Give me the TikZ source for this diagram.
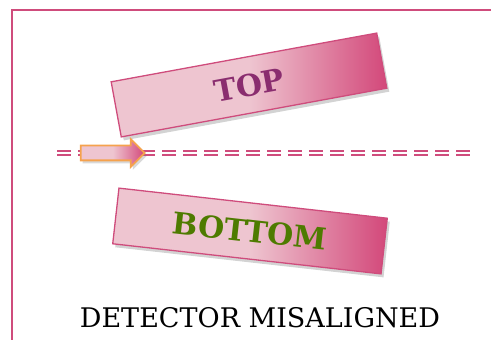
\documentclass[tikz,border=0pt]{standalone}
\usepackage{fontspec}
\setmainfont{DejaVu Serif}
\usetikzlibrary{shapes.arrows,shadows,positioning}
\definecolor{rose}{HTML}{CF4C7C}
\definecolor{roselight}{HTML}{EEC5D0}
\definecolor{rosedark}{HTML}{D3487A}
\definecolor{plum}{HTML}{8A2D6F}
\definecolor{olive}{HTML}{4E7B00}
\definecolor{amber}{HTML}{F5A24D}
\tikzset{
  frame/.style={draw=rose, line width=2pt},
  plate/.style={draw=rose, line width=1.3pt, minimum width=270pt, minimum height=56pt, inner sep=0pt,
    left color=roselight, right color=rosedark, middle color=roselight,
    drop shadow={shadow xshift=2.5pt, shadow yshift=-3.5pt, opacity=0.35},
    font=\fontsize{30}{32}\selectfont\bfseries},
  rail/.style={draw=rose, line width=1.8pt, double=white, double distance=1.5pt, dash pattern=on 14pt off 7pt},
  beamarrow/.style={single arrow, draw=amber, line width=1.8pt, inner sep=0pt, text height=6.5pt, text depth=6.5pt,
    minimum height=64pt, single arrow head extend=6.5pt, left color=roselight, right color=rosedark, middle color=roselight,
    drop shadow={shadow xshift=2pt, shadow yshift=-3pt, opacity=0.3}},
  caption/.style={font=\fontsize{27}{30}\selectfont, text=black},
}
\begin{document}
\begin{tikzpicture}[x=1pt, y=1pt]
\useasboundingbox (0,0) rectangle (491,340);
\draw[frame] (12,-10) -- (12,330) -- (510,330);
\node[plate, rotate=10.4, text=plum] (top) at (249,255) {TOP};
\node[plate, rotate=-6.4, text=olive] (bottom) at (250,109) {BOTTOM};
\coordinate (railL) at (57,187);
\coordinate (railR) at (473,187);
\draw[rail] (railL) -- (railR);
\node[beamarrow] (beam) at (109,187) {};
\node[caption] (cap) at (260,22) {DETECTOR MISALIGNED};
\end{tikzpicture}
\end{document}
